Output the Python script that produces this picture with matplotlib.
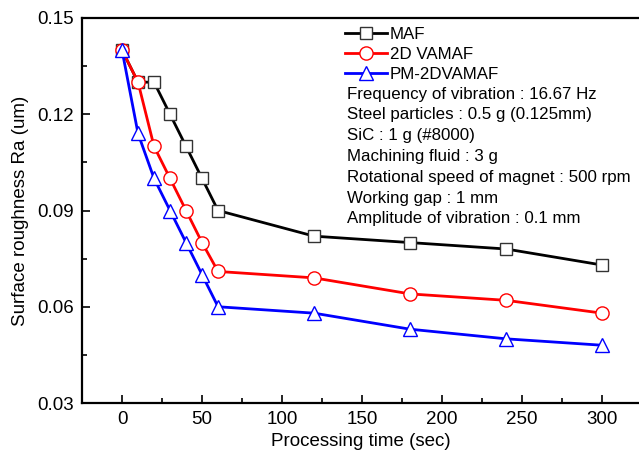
import numpy as np
import matplotlib
matplotlib.use('Agg')
import matplotlib.pyplot as plt
from matplotlib.ticker import MultipleLocator

plt.rcParams['font.family'] = ['Liberation Sans', 'DejaVu Sans']

# data
time_sec = [0, 10, 20, 30, 40, 50, 60, 120, 180, 240, 300]
ra_maf = [0.140, 0.130, 0.130, 0.120, 0.110, 0.100, 0.090, 0.082, 0.080, 0.078, 0.073]
ra_2dvamaf = [0.140, 0.130, 0.110, 0.100, 0.090, 0.080, 0.071, 0.069, 0.064, 0.062, 0.058]
ra_pm2dvamaf = [0.140, 0.114, 0.100, 0.090, 0.080, 0.070, 0.060, 0.058, 0.053, 0.050, 0.048]

conditions = [
    'Frequency of vibration : 16.67 Hz',
    'Steel particles : 0.5 g (0.125mm)',
    'SiC : 1 g (#8000)',
    'Machining fluid : 3 g',
    'Rotational speed of magnet : 500 rpm',
    'Working gap : 1 mm',
    'Amplitude of vibration : 0.1 mm',
]

W, H = 639, 467
fig = plt.figure(figsize=(W / 100, H / 100), dpi=100)
ax = fig.add_axes([82 / W, 1 - 403 / H, 1 - 82 / W, (403 - 18) / H])

ax.plot(time_sec, ra_maf, color='black', lw=2, marker='s', ms=9,
        mfc='white', mec='#333333', mew=1, label='MAF')
ax.plot(time_sec, ra_2dvamaf, color='red', lw=2, marker='o', ms=9.5,
        mfc='white', mec='red', mew=1, label='2D VAMAF')
ax.plot(time_sec, ra_pm2dvamaf, color='blue', lw=2, marker='^', ms=10.5,
        mfc='white', mec='blue', mew=1, label='PM-2DVAMAF')

ax.set_xlim(-25, 323)
ax.set_ylim(0.03, 0.15)
ax.xaxis.set_major_locator(MultipleLocator(50))
ax.xaxis.set_minor_locator(MultipleLocator(25))
ax.yaxis.set_minor_locator(MultipleLocator(0.015))
ax.set_yticks([0.03, 0.06, 0.09, 0.12, 0.15])
ax.set_yticklabels(['0.03', '0.06', '0.09', '0.12', '0.15'])

ax.tick_params(which='both', direction='in', width=1.2, labelsize=13.5,
               top=False, right=False)
ax.tick_params(which='major', length=6, pad=6)
ax.tick_params(which='minor', length=3.5)
ax.spines['right'].set_visible(False)
for s in ['left', 'bottom', 'top']:
    ax.spines[s].set_linewidth(1.6)

ax.set_xlabel('Processing time (sec)', fontsize=13.5, labelpad=3)
ax.set_ylabel('Surface roughness Ra (um)', fontsize=13.5, labelpad=6)

ax.legend(loc='upper left', bbox_to_anchor=(345 / W, 1 - 27 / H),
          bbox_transform=fig.transFigure, frameon=False, fontsize=12.2,
          handlelength=2.5, handletextpad=0.15, labelspacing=0.3,
          borderpad=0, borderaxespad=0)

for i, line in enumerate(conditions):
    fig.text(347 / W, 1 - (94 + i * 20.8) / H, line, fontsize=12.2,
             va='center', ha='left')

fig.savefig('out.png', dpi=100)
